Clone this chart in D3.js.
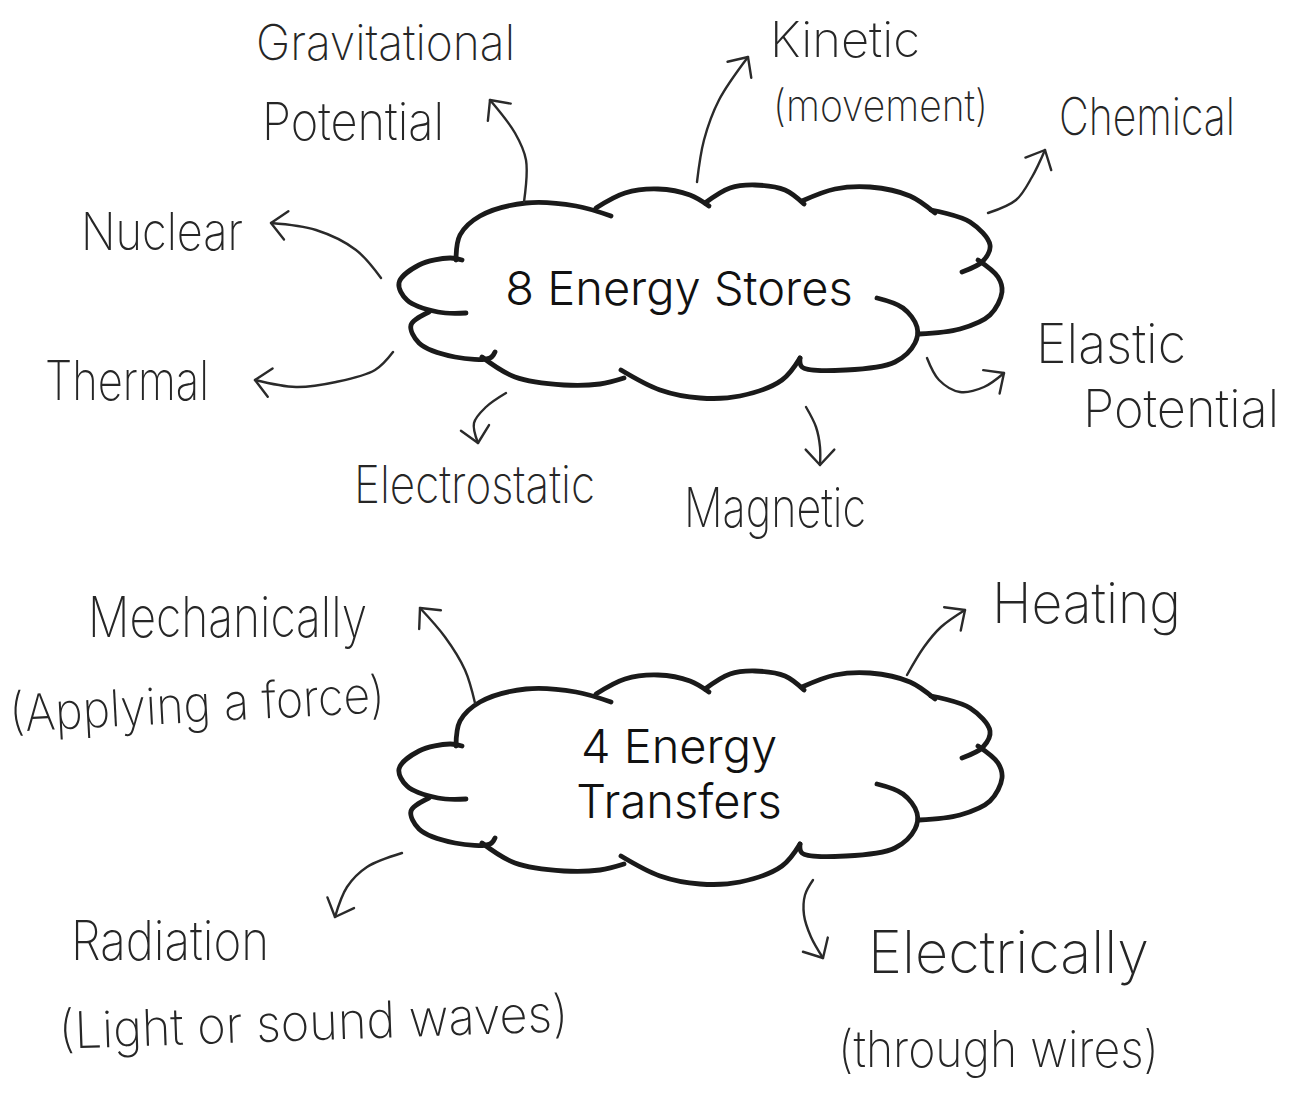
<!DOCTYPE html>
<html>
<head>
<meta charset="utf-8">
<script src="https://cdn.jsdelivr.net/npm/d3@7"></script>
<style>
    body { margin: 0; background: #fff; }
    .hand { font-family: Inter, "DejaVu Sans", sans-serif; font-weight: 200; fill: #262626; }
    .title { font-family: Inter, Lato, sans-serif; font-weight: 300; fill: #111; }
    .cloud { fill: none; stroke: #1a1a1a; stroke-width: 4.8; stroke-linecap: round; }
    .arrow { fill: none; stroke: #2a2a2a; stroke-width: 2.4; stroke-linecap: round; stroke-linejoin: round; }
</style>
</head>
<body>
<div id="chart"></div>
<script>
// -- content
const storeTitle = ["8 Energy Stores"];
const transferTitle = ["4 Energy", "Transfers"];
const stores = ["Gravitational", "Kinetic", "Chemical", "Elastic", "Magnetic", "Electrostatic", "Thermal", "Nuclear"];
const storeNotes = ["Potential", "(movement)", "", "Potential", "", "", "", ""];
const transfers = ["Mechanically", "Heating", "Electrically", "Radiation"];
const transferNotes = ["(Applying a force)", "", "(through wires)", "(Light or sound waves)"];

// -- layout (x, baseline, width, font size, rotation) for each label line
const storeLayout = [[256, 60, 259, 42, 0], [770, 57, 150, 42, 0], [1059, 135, 176, 44, 0], [1036, 363, 150, 46, 0],
                     [684, 527, 182, 46, 0], [354, 503, 241, 44, 0], [45, 400, 164, 46, 0], [81, 250, 162, 44, 0]];
const storeNoteLayout = [[262, 140, 182, 44, 0], [773, 121, 215, 37, 0], null, [1083, 427, 196, 44, 0], null, null, null, null];
const transferLayout = [[88, 637, 279, 48, 0], [992, 623, 189, 48, 0], [868, 973, 281, 50, 0], [71, 960, 198, 46, 0]];
const transferNoteLayout = [[10, 722, 376, 43, -3], null, [838, 1067, 321, 43, 0], [59, 1040, 510, 43, -2]];
const handStretch = 1.18;

// -- arrows: cloud edge -> label
const storeArrows = [
    [[524, 202], [526, 160], [515, 133], [490, 100]],
    [[697, 182], [704, 140], [719, 100], [748, 57]],
    [[988, 213], [1016, 200], [1032, 177], [1045, 150]],
    [[927, 358], [939, 380], [960, 392], [984, 387], [1004, 373]],
    [[806, 407], [816, 427], [820, 447], [820, 465]],
    [[506, 393], [486, 407], [474, 423], [478, 443]],
    [[393, 352], [375, 370], [336, 382], [296, 387], [255, 380]],
    [[381, 278], [356, 250], [316, 230], [271, 223]]
];
const transferArrows = [
    [[475, 703], [465, 670], [445, 637], [420, 608]],
    [[907, 675], [924, 647], [941, 627], [965, 610]],
    [[813, 880], [805, 895], [804, 915], [811, 937], [823, 958]],
    [[402, 853], [367, 867], [347, 887], [335, 917]]
];

// -- cloud outline lobes, relative to cloud centre
const cloudLobes = [
    [[-234, 23], [-262, 22], [-293, 10], [-301, -7], [-281, -25], [-250, -32], [-238, -30]],
    [[-244, -30], [-240, -55], [-220, -74], [-174, -87], [-124, -84], [-89, -74]],
    [[-104, -82], [-75, -97], [-42, -101], [-10, -95], [9, -84]],
    [[5, -87], [30, -102], [55, -105], [85, -100], [104, -86]],
    [[102, -89], [135, -101], [170, -103], [210, -94], [235, -77]],
    [[231, -80], [270, -68], [290, -45], [283, -29], [262, -18]],
    [[278, -30], [298, -13], [302, 2], [290, 25], [260, 39], [219, 44]],
    [[177, 8], [203, 18], [217, 37], [215, 53], [195, 72], [146, 80], [102, 77], [100, 68]],
    [[100, 68], [82, 90], [40, 106], [0, 108], [-40, 100], [-79, 80]],
    [[-76, 88], [-100, 94], [-136, 95], [-185, 87], [-218, 67]],
    [[-271, 22], [-289, 35], [-281, 53], [-245, 67], [-210, 68], [-205, 62]]
];

const W = 1295, H = 1094;
const svg = d3.select("#chart").append("svg")
    .attr("width", W)
    .attr("height", H)
    .attr("viewBox", `0 0 ${W} ${H}`);

const line = d3.line().curve(d3.curveCatmullRom.alpha(0.5));

function drawCloud(cx, cy, titleLines) {
    const g = svg.append("g").attr("transform", `translate(${cx},${cy})`);
    g.selectAll("path.cloud")
        .data(cloudLobes)
        .enter().append("path")
        .attr("class", "cloud")
        .attr("d", d => line(d));
    const baselines = titleLines.length > 1 ? [-13, 42] : [15];
    g.selectAll("text.title")
        .data(titleLines)
        .enter().append("text")
        .attr("class", "title")
        .attr("x", -21)
        .attr("y", (d, i) => baselines[i])
        .attr("text-anchor", "middle")
        .attr("font-size", 47)
        .text(d => d);
}

function drawArrows(list) {
    const g = svg.append("g");
    list.forEach(pts => {
        g.append("path").attr("class", "arrow").attr("d", line(pts));
        const tip = pts[pts.length - 1], prev = pts[pts.length - 2];
        const ang = Math.atan2(prev[1] - tip[1], prev[0] - tip[0]);
        const len = 21, spread = 0.75;
        const barbs = [ang - spread, ang + spread].map(a => [tip[0] + len * Math.cos(a), tip[1] + len * Math.sin(a)]);
        g.append("path").attr("class", "arrow")
            .attr("d", `M${barbs[0]}L${tip}L${barbs[1]}`);
    });
}

function drawLabels(texts, layout) {
    texts.forEach((t, i) => {
        const l = layout[i];
        if (!t || !l) return;
        svg.append("text")
            .attr("class", "hand")
            .attr("x", 0)
            .attr("y", 0)
            .attr("font-size", l[3])
            .attr("textLength", l[2])
            .attr("lengthAdjust", "spacingAndGlyphs")
            .attr("transform", `translate(${l[0]},${l[1]}) rotate(${l[4]},${l[2] / 2},0) scale(1,${handStretch})`)
            .text(t);
    });
}

drawCloud(700, 290, storeTitle);
drawCloud(700, 776, transferTitle);
drawArrows(storeArrows);
drawArrows(transferArrows);
drawLabels(stores, storeLayout);
drawLabels(storeNotes, storeNoteLayout);
drawLabels(transfers, transferLayout);
drawLabels(transferNotes, transferNoteLayout);
</script>
</body>
</html>
